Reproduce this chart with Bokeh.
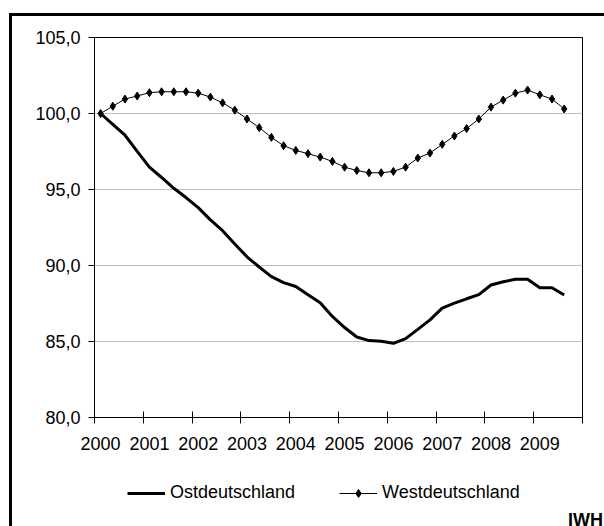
from bokeh.plotting import figure
from bokeh.layouts import column
from bokeh.models import Range1d, FixedTicker, Legend, LegendItem, Div
from bokeh.embed import file_html
from bokeh.resources import INLINE

# ---- data (quarterly index, 2000 Q1 = 100) ----
years = ["2000", "2001", "2002", "2003", "2004", "2005", "2006", "2007", "2008", "2009"]
quarters = [f"{y} Q{q}" for y in years for q in (1, 2, 3, 4)][:39]

ost = [100.0, 99.29, 98.57, 97.51, 96.47, 95.79, 95.08, 94.47, 93.81, 93.0,
       92.29, 91.41, 90.57, 89.9, 89.27, 88.87, 88.62, 88.08, 87.55, 86.65,
       85.92, 85.30, 85.06, 85.02, 84.88, 85.19, 85.80, 86.42, 87.20, 87.52,
       87.81, 88.08, 88.72, 88.93, 89.09, 89.09, 88.54, 88.54, 88.06]

west = [100.0, 100.48, 100.95, 101.15, 101.37, 101.43, 101.43, 101.43, 101.34, 101.08,
        100.70, 100.22, 99.64, 99.07, 98.43, 97.88, 97.57, 97.36, 97.13, 96.85,
        96.47, 96.25, 96.10, 96.10, 96.19, 96.47, 97.07, 97.40, 97.97, 98.52,
        99.01, 99.64, 100.42, 100.88, 101.34, 101.54, 101.23, 100.95, 100.30]

series_names = ["Ostdeutschland", "Westdeutschland"]
source_note = "IWH"

y_ticks = [80, 85, 90, 95, 100, 105]
y_labels = ["80,0", "85,0", "90,0", "95,0", "100,0", "105,0"]

# positions: each quarter is a category slot of width 1, point at slot centre
xpos = [i + 0.5 for i in range(len(quarters))]
n_slots = 4 * len(years)

FONT = "Liberation Sans"

# ---------------- main chart ----------------
p = figure(frame_width=488, frame_height=380,
           x_range=Range1d(0, n_slots), y_range=Range1d(80, 105),
           output_backend="svg", toolbar_location=None,
           min_border_left=82, min_border_right=22,
           min_border_top=21, min_border_bottom=40)

p.background_fill_color = "white"
p.border_fill_color = "white"
p.outline_line_color = "black"
p.outline_line_width = 1
p.outline_line_alpha = 1

# x axis: labels at year slot centres, tick marks at year boundaries
label_pos = [4 * k + 0.5 for k in range(len(years))]
p.xaxis.ticker = FixedTicker(ticks=label_pos, minor_ticks=[4 * k for k in range(len(years) + 1)])
p.xaxis.major_label_overrides = {lp: yl for lp, yl in zip(label_pos, years)}
p.xaxis.major_tick_line_color = None
p.xaxis.major_tick_out = 6
p.xaxis.major_tick_in = 0
p.xaxis.minor_tick_line_color = "black"
p.xaxis.minor_tick_in = 6
p.xaxis.minor_tick_out = 6
p.xaxis.major_label_standoff = 13

p.yaxis.ticker = FixedTicker(ticks=y_ticks)
p.yaxis.major_label_overrides = {t: l for t, l in zip(y_ticks, y_labels)}
p.yaxis.major_tick_out = 6
p.yaxis.major_tick_in = 0
p.yaxis.minor_tick_line_color = None
p.yaxis.major_label_standoff = 8

for ax in (p.xaxis, p.yaxis):
    ax.axis_line_color = "black"
    ax.axis_line_width = 1
    ax.major_label_text_font = FONT
    ax.major_label_text_font_size = "18px"
    ax.major_label_text_color = "black"

p.xgrid.visible = False
p.ygrid.ticker = FixedTicker(ticks=y_ticks)
p.ygrid.grid_line_color = "#c0c0c0"
p.ygrid.grid_line_width = 1

p.line(xpos, ost, line_width=3, line_color="black")
p.line(xpos, west, line_width=1, line_color="black")
p.scatter(xpos, west, marker="diamond", size=8, fill_color="black", line_color="black")

# ---------------- legend strip (frame aligned with the chart's frame) ----------------
LH = 49
q = figure(width=592, height=LH, x_range=Range1d(0, n_slots), y_range=Range1d(0, 10),
           x_axis_type=None, y_axis_type=None,
           output_backend="svg", toolbar_location=None,
           min_border_left=82, min_border_right=22,
           min_border_top=0, min_border_bottom=0)
q.grid.visible = False
q.outline_line_color = None
q.background_fill_color = "white"
q.border_fill_color = "white"

# legend keys: same series; their values lie outside the strip's visible y range,
# so only the legend glyphs show
k_ost = q.line(xpos, ost, line_width=3, line_color="black")
k_west = q.line(xpos, west, line_width=1, line_color="black")
k_west_pts = q.scatter(xpos, west, marker="diamond", size=7, fill_color="black", line_color="black")

legend = Legend(items=[LegendItem(label=series_names[0], renderers=[k_ost]),
                       LegendItem(label=series_names[1], renderers=[k_west, k_west_pts])],
                orientation="horizontal", location=(33, 3),
                border_line_color=None, background_fill_alpha=0,
                padding=0, margin=0, spacing=44, glyph_width=38, glyph_height=20,
                label_standoff=5, label_text_font=FONT, label_text_font_size="18px",
                label_text_color="black")
q.add_layout(legend)

# ---------------- source note ----------------
note = Div(text=source_note, width=586, height=20,
           styles={"font-family": FONT, "font-weight": "bold", "font-size": "18px",
                   "line-height": "19px", "text-align": "right", "color": "black",
                   "overflow": "visible"})

layout = column(p, q, note, spacing=0,
                styles={"border-left": "3px solid black", "border-top": "3px solid black",
                        "margin-top": "13px", "margin-left": "9px"})

open("out.html", "w").write(file_html(layout, INLINE))
